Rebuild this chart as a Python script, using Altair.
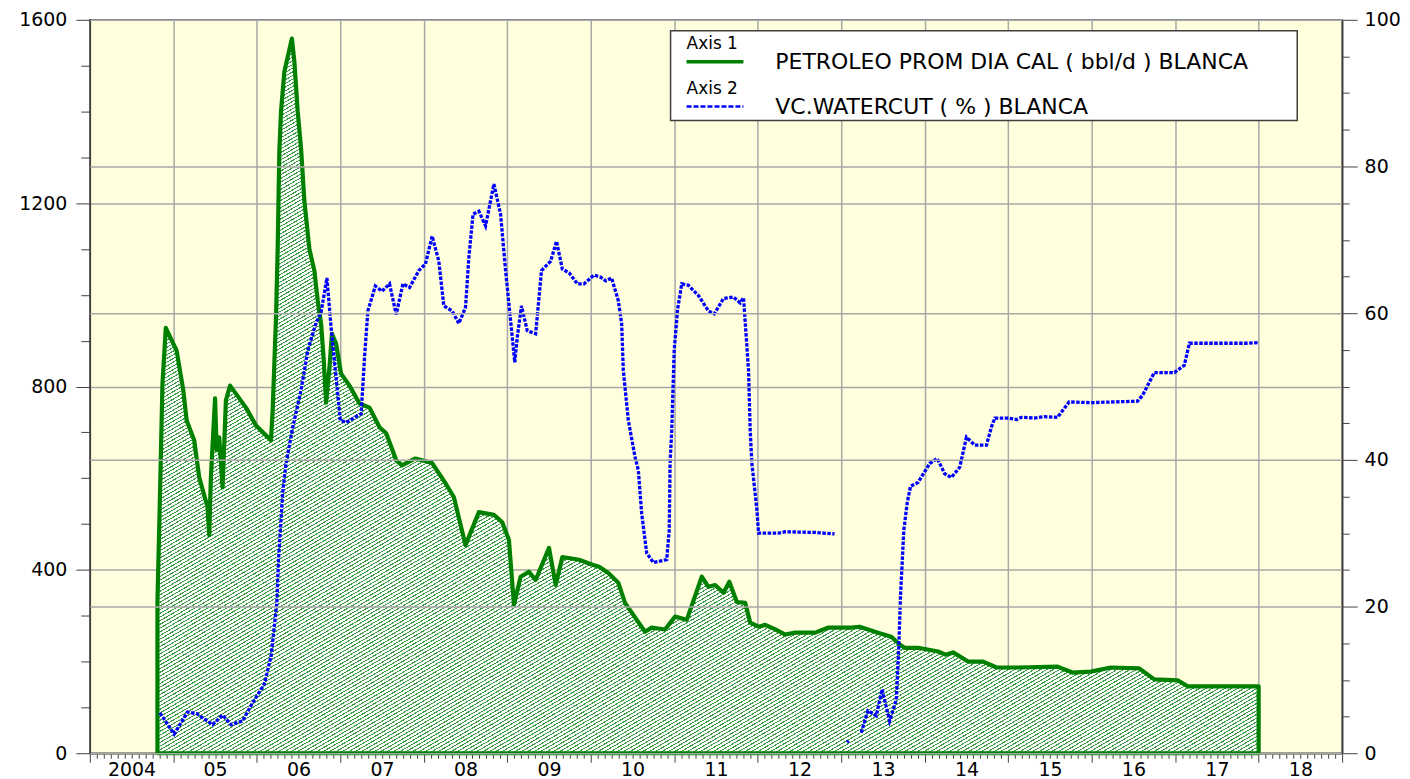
import math
import altair as alt
import pandas as pd

# ---------------- data ----------------
OIL_T = [2004.81, 2004.84, 2004.87, 2004.91, 2005.04, 2005.12, 2005.16, 2005.25, 2005.31,
         2005.41, 2005.43, 2005.45, 2005.50, 2005.52, 2005.55, 2005.59, 2005.63, 2005.68,
         2005.87, 2005.99, 2006.17, 2006.19, 2006.23, 2006.25, 2006.27, 2006.29, 2006.33,
         2006.42, 2006.45, 2006.49, 2006.53, 2006.57, 2006.63, 2006.69, 2006.73, 2006.77,
         2006.80, 2006.83, 2006.87, 2006.90, 2006.95, 2007.01, 2007.11, 2007.23, 2007.35,
         2007.47, 2007.55, 2007.67, 2007.74, 2007.90, 2008.10, 2008.26, 2008.36, 2008.50,
         2008.66, 2008.84, 2008.94, 2009.02, 2009.08, 2009.16, 2009.26, 2009.34, 2009.50,
         2009.58, 2009.66, 2009.86, 2010.02, 2010.10, 2010.21, 2010.33, 2010.41, 2010.65,
         2010.73, 2010.89, 2011.01, 2011.15, 2011.33, 2011.41, 2011.49, 2011.59, 2011.66,
         2011.75, 2011.85, 2011.91, 2012.01, 2012.09, 2012.21, 2012.33, 2012.45, 2012.69,
         2012.84, 2013.12, 2013.22, 2013.44, 2013.60, 2013.70, 2013.76, 2013.92, 2014.16,
         2014.25, 2014.34, 2014.52, 2014.70, 2014.86, 2015.12, 2015.59, 2015.77, 2015.99,
         2016.23, 2016.57, 2016.75, 2017.03, 2017.15, 2017.98, 2018.00]
OIL_V = [330, 560, 806, 928, 878, 791, 726, 683, 602,
         537, 476, 602, 774, 661, 689, 580, 770, 802,
         754, 715, 683, 748, 950, 1100, 1313, 1400, 1487,
         1559, 1509, 1400, 1320, 1204, 1100, 1052, 987, 937,
         863, 765, 841, 915, 893, 828, 802, 763, 754,
         711, 698, 639, 628, 643, 633, 589, 559, 454,
         526, 520, 504, 465, 324, 385, 396, 378, 448,
         367, 428, 422, 411, 407, 393, 372, 328, 265,
         274, 270, 298, 291, 385, 363, 367, 350, 374,
         330, 328, 285, 276, 280, 270, 259, 263, 263,
         274, 274, 276, 263, 254, 237, 230, 230, 222,
         215, 220, 200, 200, 187, 187, 189, 176, 178,
         187, 185, 161, 159, 146, 146, 146]

WC1_T = [2004.84, 2005.01, 2005.17, 2005.28, 2005.47, 2005.59, 2005.69, 2005.83, 2005.95,
         2006.09, 2006.17, 2006.21, 2006.24, 2006.26, 2006.31, 2006.35, 2006.43, 2006.53,
         2006.61, 2006.71, 2006.77, 2006.84, 2006.89, 2006.95, 2007.00, 2007.07, 2007.25,
         2007.29, 2007.33, 2007.42, 2007.50, 2007.59, 2007.67, 2007.75, 2007.83, 2007.94,
         2008.02, 2008.10, 2008.18, 2008.24, 2008.34, 2008.42, 2008.50, 2008.54, 2008.59,
         2008.66, 2008.74, 2008.84, 2008.92, 2008.98, 2009.04, 2009.09, 2009.12, 2009.17,
         2009.24, 2009.34, 2009.41, 2009.52, 2009.59, 2009.66, 2009.74, 2009.84, 2009.92,
         2010.04, 2010.12, 2010.18, 2010.25, 2010.33, 2010.37, 2010.39, 2010.45, 2010.53,
         2010.57, 2010.61, 2010.67, 2010.75, 2010.91, 2010.94, 2010.95, 2010.97, 2011.00,
         2011.04, 2011.09, 2011.17, 2011.29, 2011.41, 2011.48, 2011.59, 2011.71, 2011.79,
         2011.83, 2011.89, 2011.91, 2011.93, 2011.99, 2012.01, 2012.25, 2012.33, 2012.69,
         2012.92]
WC1_V = [5.5, 2.6, 5.6, 5.4, 3.9, 5.2, 3.9, 4.4, 6.9,
         9.4, 13.2, 17.3, 20.5, 26.4, 35.5, 39.5, 44.4, 49.5,
         54.9, 58.7, 60.1, 64.8, 58.0, 51.2, 45.4, 45.1, 46.3,
         53.9, 60.3, 63.7, 63.0, 64.0, 59.8, 64.0, 63.5, 65.8,
         66.7, 70.5, 67.1, 61.0, 60.3, 58.6, 60.8, 67.6, 73.5,
         73.9, 71.9, 77.6, 73.5, 65.8, 59.0, 53.3, 56.7, 61.0,
         57.6, 57.2, 65.8, 67.1, 69.8, 66.0, 65.5, 64.0, 64.0,
         65.2, 64.9, 64.4, 64.8, 61.7, 58.6, 52.2, 45.4, 40.4,
         38.6, 32.7, 27.3, 26.0, 26.4, 30.4, 39.5, 44.0, 55.0,
         60.5, 64.0, 63.8, 62.4, 60.3, 59.9, 62.0, 62.2, 61.4,
         62.1, 52.2, 44.0, 39.5, 33.2, 30.0, 30.0, 30.2, 30.1,
         29.9]
WC2_T = [2013.07, 2013.09]
WC2_V = [1.5, 1.7]
WC3_T = [2013.24, 2013.32, 2013.42, 2013.49, 2013.58, 2013.66, 2013.69, 2013.71, 2013.73,
         2013.75, 2013.79, 2013.83, 2013.92, 2014.06, 2014.15, 2014.24, 2014.32, 2014.42,
         2014.50, 2014.60, 2014.74, 2014.80, 2014.84, 2015.00, 2015.10, 2015.16, 2015.31,
         2015.43, 2015.59, 2015.73, 2015.99, 2016.55, 2016.61, 2016.75, 2016.99, 2017.11,
         2017.17, 2017.86, 2018.00]
WC3_V = [2.8, 5.8, 5.1, 8.7, 4.4, 7.3, 14.6, 21.4, 25.9,
         30.4, 34.1, 36.4, 36.9, 39.5, 40.2, 38.1, 37.6, 39.0,
         43.1, 42.0, 42.0, 44.5, 45.7, 45.7, 45.5, 45.8, 45.7,
         45.9, 45.8, 47.9, 47.8, 48.0, 48.8, 51.9, 51.9, 52.9,
         55.9, 55.9, 56.0]

YEAR_LABELS = ["2004", "05", "06", "07", "08", "09", "10", "11", "12",
               "13", "14", "15", "16", "17", "18"]
LEGEND_TITLES = ["Axis 1", "Axis 2"]
LEGEND_LABELS = ["PETROLEO PROM DIA CAL ( bbl/d ) BLANCA", "VC.WATERCUT ( % ) BLANCA"]

# ---------------- layout / style ----------------
PLOT_W, PLOT_H = 1255, 735
X_DOMAIN = [2004, 2019]
OIL_DOMAIN = [0, 1600]
WC_DOMAIN = [0, 100]
GREEN = "#008000"
HATCH = "#3f9f45"
BLUE = "#0000FF"
FONT = "DejaVu Sans"

oil_df = pd.DataFrame({"t": OIL_T, "oil": OIL_V})
wc_parts = []
for s, (tt, vv) in enumerate([(WC1_T, WC1_V), (WC2_T, WC2_V), (WC3_T, WC3_V)]):
    wc_parts.append(pd.DataFrame({"t": tt, "wc": vv, "seg": s}))
wc_df = pd.concat(wc_parts, ignore_index=True)

# hatch approximation: a striped linear gradient in the area's bounding box
bw = (max(OIL_T) - min(OIL_T)) / (X_DOMAIN[1] - X_DOMAIN[0]) * PLOT_W
bh = max(OIL_V) / OIL_DOMAIN[1] * PLOT_H
theta = math.radians(30)
L = bw * math.sin(theta) + bh * math.cos(theta)
a = bw * math.sin(theta) / L
b = bh * math.cos(theta) / L
ss = a * a + b * b
gx2, gy2 = a / ss, b / ss
period = 3.2
frac = 0.33
n = int(round(L / period))
stops = []
for k in range(n):
    o0 = k / n
    o1 = (k + frac) / n
    o2 = (k + 1) / n
    stops += [alt.GradientStop(color=HATCH, offset=round(o0, 6)),
              alt.GradientStop(color=HATCH, offset=round(o1, 6)),
              alt.GradientStop(color="#ffffff", offset=round(o1, 6)),
              alt.GradientStop(color="#ffffff", offset=round(o2, 6))]
hatch = alt.LinearGradient(gradient="linear", stops=stops, x1=0, y1=0, x2=gx2, y2=gy2)

# ---------------- axes ----------------
X_TICKS = [round(X_DOMAIN[0] + k / 12, 6) for k in range(12 * (X_DOMAIN[1] - X_DOMAIN[0]) + 1)]
YEAR_TEST = "abs(datum.value - round(datum.value)) < 0.001"
MID_TEST = "abs(datum.value - floor(datum.value) - 0.5) < 0.001"
label_arr = "[" + ",".join("'%s'" % s for s in YEAR_LABELS) + "]"
x_axis = alt.Axis(
    values=X_TICKS, title=None, orient="bottom",
    labelExpr=f"({MID_TEST}) ? {label_arr}[floor(datum.value) - {X_DOMAIN[0]}] : ''",
    tickSize={"condition": {"test": YEAR_TEST, "value": 9}, "value": 5},
    gridOpacity={"condition": {"test": YEAR_TEST, "value": 1}, "value": 0},
    grid=True, labelPadding=2, labelOverlap=False, labelFlush=False,
    labelFontSize=19,
)
left_axis = alt.Axis(
    values=list(range(0, 1601, 100)), title=None, orient="left",
    labelExpr="datum.value % 400 === 0 ? datum.label : ''",
    tickSize={"condition": {"test": "datum.value % 400 === 0", "value": 14}, "value": 9},
    gridOpacity={"condition": {"test": "datum.value % 400 === 0", "value": 1}, "value": 0},
    grid=True, labelPadding=9, labelOverlap=False, format="d",
)
right_axis = alt.Axis(
    values=list(range(0, 101, 5)), title=None, orient="right",
    labelExpr="datum.value % 20 === 0 ? datum.label : ''",
    tickSize={"condition": {"test": "datum.value % 20 === 0", "value": 15}, "value": 7},
    gridOpacity={"condition": {"test": "datum.value % 20 === 0", "value": 1}, "value": 0},
    grid=True, labelPadding=7, labelOverlap=False, zindex=1, format="d",
)

x_enc = alt.X("t:Q", scale=alt.Scale(domain=X_DOMAIN, nice=False, zero=False), axis=x_axis)

area = alt.Chart(oil_df).mark_area(
    fill=hatch, stroke=GREEN, strokeWidth=4.2, strokeJoin="round"
).encode(
    x=x_enc,
    y=alt.Y("oil:Q", scale=alt.Scale(domain=OIL_DOMAIN, nice=False), axis=left_axis, stack=None),
)

line = alt.Chart(wc_df).mark_line(
    color=BLUE, strokeWidth=3.3, strokeDash=[3.5, 1.5]
).encode(
    x=x_enc,
    y=alt.Y("wc:Q", scale=alt.Scale(domain=WC_DOMAIN, nice=False), axis=right_axis),
    detail="seg:N",
)

# ---------------- legend box ----------------
one = pd.DataFrame({"k": [0]})
leg_box = alt.Chart(one).mark_rect(fill="white", stroke="#404040", strokeWidth=1.5).encode(
    x=alt.value(582), x2=alt.value(1210), y=alt.value(11), y2=alt.value(101))
leg_t1 = alt.Chart(one).mark_text(align="left", baseline="middle", font=FONT, fontSize=17,
                                   color="black").encode(
    x=alt.value(598), y=alt.value(24), text=alt.value(LEGEND_TITLES[0]))
leg_t2 = alt.Chart(one).mark_text(align="left", baseline="middle", font=FONT, fontSize=17,
                                   color="black").encode(
    x=alt.value(598), y=alt.value(69), text=alt.value(LEGEND_TITLES[1]))
leg_l1 = alt.Chart(one).mark_text(align="left", baseline="middle", font=FONT, fontSize=22,
                                   color="black").encode(
    x=alt.value(687), y=alt.value(42), text=alt.value(LEGEND_LABELS[0]))
leg_l2 = alt.Chart(one).mark_text(align="left", baseline="middle", font=FONT, fontSize=22,
                                   color="black").encode(
    x=alt.value(687), y=alt.value(87), text=alt.value(LEGEND_LABELS[1]))
leg_r1 = alt.Chart(one).mark_rule(color=GREEN, strokeWidth=3.5).encode(
    x=alt.value(598), x2=alt.value(655), y=alt.value(42))
leg_r2 = alt.Chart(one).mark_rule(color=BLUE, strokeWidth=2.5, strokeDash=[5, 2]).encode(
    x=alt.value(598), x2=alt.value(655), y=alt.value(87))

chart = alt.layer(
    area, line, leg_box, leg_t1, leg_t2, leg_l1, leg_l2, leg_r1, leg_r2
).resolve_scale(
    y="independent"
).properties(
    width=PLOT_W, height=PLOT_H,
    autosize=alt.AutoSizeParams(type="none"),
    padding={"left": 82, "top": 11, "right": 60, "bottom": 28},
    background="white",
).configure_view(
    fill="#FFFFDD", stroke="#404040", strokeWidth=1.5
).configure_axis(
    domainColor="#404040", domainWidth=1.5, tickColor="#404040", tickWidth=1,
    gridColor="#a8a8a8", gridWidth=1.5,
    labelFont=FONT, labelFontSize=19, labelColor="black",
)

chart.save("out.html", embed_options={"renderer": "svg", "actions": False})
